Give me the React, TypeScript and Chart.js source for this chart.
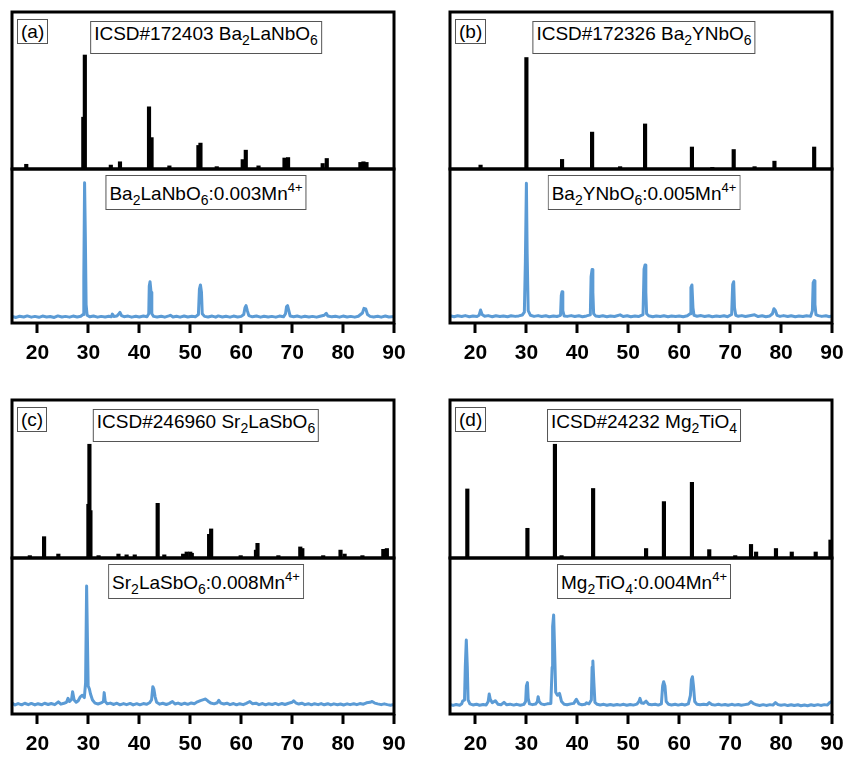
import React, { useEffect, useRef } from 'react';
import { Chart, registerables } from 'chart.js';

Chart.register(...registerables);

// ---------- shared axis ----------
const X_MIN = 15;
const X_MAX = 90;
const xTicks = [20, 30, 40, 50, 60, 70, 80, 90];

// ---------- (a) ICSD#172403 Ba2LaNbO6 reference sticks ----------
const refA_pos = [17.8, 29.0, 29.3, 34.4, 36.2, 41.9, 42.4, 45.9, 51.6, 52.0, 55.2, 60.3, 60.9, 63.4, 68.5, 69.2, 76.0, 76.8, 83.4, 84.0, 84.6];
const refA_int = [3, 33, 72.6, 2.5, 4.6, 39.6, 20, 2, 15, 16.5, 1.5, 6, 12, 2, 7, 7.3, 3.5, 6.7, 4.2, 4.6, 4.2];
// sample Ba2LaNbO6:0.003Mn4+  [2theta, intensity]
const sampleA: [number, number][] = [
  [15, 4.3], [15.8, 3.6], [16.5, 4.4], [17.3, 3.9], [18, 4.6], [18.8, 3.8], [19.5, 4.3], [20.3, 3.7], [21, 4.5],
  [21.8, 3.9], [22.5, 4.2], [23.3, 3.6], [24, 4.6], [24.8, 3.9], [25.5, 4.3], [26.3, 3.8], [27, 4.5], [27.8, 3.9],
  [28.5, 4.4], [28.95, 5.5], [29.1, 30], [29.25, 91], [29.4, 56], [29.55, 12], [29.75, 5], [30.3, 4.0], [31, 4.5],
  [31.8, 3.8], [32.5, 4.3], [33.3, 3.9], [34, 4.4], [34.5, 4.0], [34.7, 5.8], [35, 4.2], [35.6, 4.5], [36, 6],
  [36.2, 6.9], [36.5, 4.8], [37, 4.1], [37.8, 4.5], [38.5, 3.8], [39.3, 4.4], [40, 3.9], [40.8, 4.5], [41.5, 4.1],
  [41.85, 6], [41.95, 24], [42.1, 26.8], [42.3, 20], [42.45, 6], [42.8, 4.3], [43.5, 3.9], [44.3, 4.4], [45, 3.8],
  [45.8, 4.6], [46.1, 5], [46.6, 3.9], [47.3, 4.4], [48, 3.8], [48.8, 4.5], [49.5, 3.9], [50.3, 4.4], [51, 4.0],
  [51.6, 5.5], [51.8, 22], [52.0, 24.7], [52.2, 20], [52.35, 6], [52.8, 4.3], [53.5, 3.9], [54.3, 4.5], [55, 3.8],
  [55.5, 4.6], [56.3, 3.9], [57, 4.4], [57.8, 3.8], [58.5, 4.5], [59.3, 3.9], [60, 4.3], [60.5, 5.5], [60.75, 10],
  [60.95, 11.3], [61.2, 8], [61.5, 4.8], [62.2, 4.0], [63, 4.5], [63.8, 3.8], [64.5, 4.4], [65.3, 3.9], [66, 4.3],
  [66.8, 3.8], [67.5, 4.5], [68.3, 4.0], [68.7, 6], [68.9, 10.5], [69.1, 11.3], [69.35, 8], [69.6, 4.6], [70.3, 4.1],
  [71, 4.5], [71.8, 3.8], [72.5, 4.4], [73.3, 3.9], [74, 4.3], [74.8, 3.8], [75.5, 4.4], [76.3, 5], [76.7, 6.3],
  [77, 4.6], [77.8, 4.0], [78.5, 4.4], [79.3, 3.8], [80, 4.5], [80.8, 3.9], [81.5, 4.3], [82.3, 3.8], [83, 4.4],
  [83.8, 6.5], [84.1, 9.5], [84.45, 9.2], [84.8, 5.5], [85.3, 4.3], [86, 3.9], [86.8, 4.4], [87.5, 3.8], [88.3, 4.5],
  [89, 3.9], [90, 4.2],
];

// ---------- (b) ICSD#172326 Ba2YNbO6 ----------
const refB_pos = [21.0, 30.0, 37.0, 42.9, 48.4, 53.3, 62.5, 66.5, 70.7, 74.8, 78.7, 86.5];
const refB_int = [2.5, 71, 6.1, 23.5, 1.5, 28.7, 14, 1, 12.4, 1.5, 5, 14];
const sampleB: [number, number][] = [
  [15, 4.8], [15.8, 4.1], [16.5, 4.7], [17.3, 4.2], [18, 4.8], [18.8, 4.1], [19.5, 4.6], [20.3, 4.2], [20.7, 5],
  [21.0, 8.4], [21.3, 5.5], [21.8, 4.4], [22.5, 4.8], [23.3, 4.1], [24, 4.7], [24.8, 4.2], [25.5, 4.6], [26.3, 4.1],
  [27, 4.7], [27.8, 4.3], [28.5, 4.6], [29.2, 5.2], [29.6, 7], [29.8, 40], [30.0, 90.7], [30.15, 45], [30.35, 8],
  [30.8, 5], [31.5, 4.3], [32.3, 4.8], [33, 4.2], [33.8, 4.7], [34.5, 4.1], [35.3, 4.6], [36, 4.2], [36.7, 5],
  [36.85, 18], [37.0, 20.3], [37.15, 8], [37.4, 4.6], [38, 4.3], [38.8, 4.8], [39.5, 4.2], [40.3, 4.7], [41, 4.1],
  [41.8, 4.6], [42.55, 5.3], [42.7, 30], [42.9, 34.8], [43.05, 20], [43.2, 6], [43.6, 4.6], [44.3, 4.2], [45, 4.7],
  [45.8, 4.1], [46.5, 4.6], [47.3, 4.2], [48.4, 5.3], [49, 4.2], [49.8, 4.7], [50.5, 4.1], [51.3, 4.6], [52, 4.2],
  [52.9, 5.5], [53.1, 35], [53.3, 37.7], [53.45, 20], [53.6, 6], [54, 4.7], [54.8, 4.1], [55.5, 4.6], [56.3, 4.2],
  [57, 4.7], [57.8, 4.1], [58.5, 4.6], [59.3, 4.2], [60, 4.6], [60.8, 4.1], [61.6, 4.7], [62.15, 6], [62.3, 23],
  [62.5, 24.7], [62.7, 10], [62.9, 5], [63.5, 4.4], [64.3, 4.8], [65, 4.2], [65.8, 4.7], [66.5, 4.1], [67.3, 4.6],
  [68, 4.2], [68.8, 4.7], [69.5, 4.1], [70.3, 5.5], [70.5, 25], [70.7, 26.8], [70.85, 10], [71.1, 5], [71.6, 4.4],
  [72.3, 4.8], [73, 4.2], [73.8, 4.7], [74.8, 5.3], [75.5, 4.2], [76.3, 4.7], [77, 4.1], [77.8, 4.6], [78.3, 6],
  [78.6, 9.3], [78.9, 8], [79.2, 5], [79.8, 4.3], [80.5, 4.8], [81.3, 4.2], [82, 4.7], [82.8, 4.1], [83.5, 4.6],
  [84.3, 4.2], [85, 4.7], [85.8, 4.3], [86.15, 8], [86.3, 26], [86.5, 27.5], [86.65, 12], [86.85, 5.5], [87.3, 4.8],
  [88, 4.3], [88.8, 4.7], [89.5, 4.1], [90, 4.6],
];

// ---------- (c) ICSD#246960 Sr2LaSbO6 ----------
const refC_pos = [18.5, 21.3, 24.1, 30.0, 30.2, 30.4, 32.0, 35.9, 37.5, 39.1, 43.6, 44.9, 48.6, 49.3, 50.0, 50.3, 53.7, 54.1, 59.9, 62.9, 63.2, 67.3, 71.6, 72.0, 76.1, 79.5, 80.3, 83.8, 87.9, 88.6];
const refC_int = [1.5, 13.5, 2.5, 34, 72, 30, 1.5, 2.5, 2, 2, 34.6, 2, 2.5, 3.8, 3.8, 3, 15, 18.4, 1.5, 5, 9.3, 1.5, 7, 6, 1.5, 5, 2.5, 1.5, 5.5, 6];
const sampleC: [number, number][] = [
  [15, 7], [15.6, 5.8], [16.2, 6.7], [16.9, 5.9], [17.5, 6.9], [18.2, 6.0], [18.8, 6.8], [19.5, 5.8], [20.1, 6.6],
  [20.8, 5.9], [21.4, 6.9], [22.1, 6.1], [22.7, 6.7], [23.4, 6.0], [24.1, 7.8], [24.6, 6.3], [25.2, 6.9], [25.7, 7.5],
  [26.0, 10], [26.3, 8], [26.7, 9.5], [26.9, 14.3], [27.2, 9], [27.6, 7.5], [28.0, 8.5], [28.4, 11], [28.8, 12],
  [29.2, 10.5], [29.45, 20], [29.65, 82], [29.8, 50], [29.95, 18], [30.2, 16], [30.4, 13], [30.8, 9], [31.3, 7],
  [31.9, 6.4], [32.5, 7.1], [32.95, 8], [33.1, 13.7], [33.3, 8], [33.7, 6.5], [34.3, 7.0], [35, 6.1], [35.6, 6.9],
  [36.2, 5.9], [36.9, 6.7], [37.5, 6.0], [38.2, 6.8], [38.8, 5.8], [39.5, 6.6], [40.1, 5.9], [40.8, 6.7], [41.4, 6.2],
  [42, 7.2], [42.4, 9], [42.65, 17.5], [42.85, 16], [43.1, 11], [43.4, 7.5], [44, 6.3], [44.6, 6.9], [45.3, 6.1],
  [45.9, 6.8], [46.5, 8], [47, 6.4], [47.6, 7.0], [48.3, 6.1], [48.9, 6.9], [49.5, 6.2], [50.2, 7.1], [50.8, 6.6],
  [51.4, 7.8], [52, 8.6], [52.6, 9.2], [53.0, 9.6], [53.5, 8.2], [54, 7.0], [54.7, 6.5], [55.3, 7.2], [55.6, 8.8],
  [56, 7.0], [56.6, 6.4], [57.2, 6.9], [57.8, 6.0], [58.5, 6.7], [59.1, 5.9], [59.7, 6.6], [60.4, 6.0], [61, 6.8],
  [61.7, 8], [62.2, 6.6], [62.9, 6.9], [63.5, 6.0], [64.2, 6.7], [64.8, 5.9], [65.4, 6.6], [66.1, 6.1], [66.7, 6.8],
  [67.3, 6.0], [68, 6.7], [68.6, 6.1], [69.3, 6.9], [70, 7.5], [70.3, 8.5], [70.7, 7.2], [71.3, 6.4], [71.9, 6.9],
  [72.5, 6.0], [73.2, 6.6], [73.8, 5.9], [74.4, 6.6], [75.1, 6.0], [75.7, 6.7], [76.3, 5.9], [77, 6.6], [77.6, 5.8],
  [78.2, 6.5], [78.9, 5.9], [79.5, 6.4], [80.1, 5.8], [80.8, 6.5], [81.4, 6.0], [82.1, 6.6], [82.7, 6.0], [83.3, 6.7],
  [84, 6.3], [84.6, 7.2], [85.3, 7.5], [85.7, 8], [86.2, 7.0], [86.8, 6.5], [87.5, 6.0], [88.1, 6.5], [88.7, 6.0],
  [89.3, 5.6], [90, 6.2],
];

// ---------- (d) ICSD#24232 Mg2TiO4 ----------
const refD_pos = [18.4, 30.2, 35.6, 36.9, 43.1, 53.5, 57.0, 62.5, 65.9, 71.0, 74.1, 75.1, 79.0, 82.1, 86.8, 89.7];
const refD_int = [43.7, 18.8, 72, 1.5, 44, 6, 35.7, 47.9, 5.3, 1.5, 8.6, 3.8, 6, 3.8, 3.8, 11.4];
const sampleD: [number, number][] = [
  [15, 6.2], [15.6, 5.5], [16.2, 6.1], [16.9, 5.6], [17.3, 6.5], [17.5, 8.3], [17.85, 9], [18.0, 30], [18.2, 47.4],
  [18.4, 30], [18.55, 9], [18.9, 6.5], [19.5, 5.8], [20.2, 6.3], [20.8, 5.6], [21.5, 6.1], [22.1, 5.8], [22.5, 8],
  [22.7, 12.8], [22.9, 9.5], [23.3, 7.2], [23.9, 8.5], [24.4, 6.3], [25, 5.9], [25.6, 7.5], [26.1, 5.9], [26.8, 6.3],
  [27.5, 5.7], [28.1, 6.2], [28.8, 5.6], [29.5, 6.2], [29.85, 8], [30.0, 18], [30.2, 20.1], [30.35, 10], [30.6, 6.5],
  [31.2, 6.0], [31.8, 6.4], [32.15, 8], [32.3, 11.1], [32.5, 8], [32.9, 6.5], [33.5, 6.0], [34.1, 6.5], [34.8, 6.8],
  [35.05, 30], [35.15, 56], [35.35, 63.5], [35.55, 40], [35.75, 14], [36.1, 12], [36.5, 13.2], [36.9, 8], [37.4, 6.3],
  [38, 5.9], [38.7, 6.5], [39.3, 6.8], [39.8, 9.4], [40.3, 6.5], [40.9, 5.9], [41.5, 6.2], [41.8, 7.2], [42.3, 6.5],
  [42.75, 9], [42.9, 30], [43.05, 34], [43.25, 20], [43.45, 7.5], [43.9, 6.2], [44.5, 5.8], [45.2, 6.2], [45.8, 5.6],
  [46.5, 6.1], [47.1, 5.6], [47.8, 6.1], [48.4, 5.7], [49.1, 6.2], [49.7, 5.6], [50.4, 6.1], [51, 5.7], [51.7, 6.3],
  [52.1, 8], [52.3, 10], [52.6, 7], [53, 6.8], [53.5, 8.2], [54, 6.3], [54.6, 5.9], [55.3, 6.2], [55.9, 5.7],
  [56.5, 6.5], [56.75, 18], [56.95, 20.7], [57.2, 18], [57.45, 8], [57.9, 6.3], [58.5, 5.8], [59.2, 6.2], [59.8, 5.7],
  [60.5, 6.2], [61.1, 5.8], [61.8, 6.5], [62.2, 12], [62.4, 22], [62.6, 23.9], [62.8, 18], [63.05, 8], [63.5, 6.2],
  [64.1, 5.9], [64.8, 6.3], [65.5, 6.0], [65.9, 7.3], [66.4, 6.1], [67, 5.7], [67.7, 6.2], [68.3, 5.7], [69, 6.1],
  [69.6, 5.6], [70.3, 6.2], [70.9, 5.7], [71.6, 6.1], [72.2, 5.6], [72.9, 6.0], [73.6, 6.4], [74.1, 8], [74.6, 6.6],
  [75.2, 5.9], [75.8, 5.5], [76.5, 6.0], [77.1, 5.5], [77.8, 6.0], [78.4, 5.7], [78.9, 7.3], [79.4, 6.0], [80, 5.6],
  [80.7, 6.0], [81.3, 5.4], [82, 5.9], [82.6, 5.4], [83.3, 5.9], [83.9, 5.3], [84.6, 5.8], [85.2, 5.3], [85.9, 5.9],
  [86.5, 5.5], [87.2, 6.0], [87.8, 5.5], [88.5, 6.0], [89.1, 5.7], [89.6, 7.5], [90, 8],
];

const BLUE = '#5b9bd5';
const FONT = '"Liberation Sans", Arial, sans-serif';

const framePlugin = {
  id: 'frame',
  afterDatasetsDraw(chart: any) {
    const { ctx, chartArea } = chart;
    const { left, top, right, bottom } = chartArea;
    ctx.save();
    ctx.strokeStyle = '#000';
    ctx.lineWidth = 3;
    ctx.lineJoin = 'miter';
    ctx.strokeRect(left, top, right - left, bottom - top);
    ctx.restore();
  },
};

const PAD_L = 12;
const PAD_R = 31;
const AXIS_H = 44;

function RefChart(props: { pos: number[]; ints: number[]; left: number; top: number; bottom: number }) {
  const ref = useRef<HTMLCanvasElement>(null);
  const width = 382 + PAD_L + PAD_R;
  const height = props.bottom - props.top + 12 + 2;
  useEffect(() => {
    const chart = new Chart(ref.current as HTMLCanvasElement, {
      type: 'bar',
      data: {
        datasets: [
          {
            data: props.pos.map((p, i) => ({ x: p, y: props.ints[i] })),
            backgroundColor: '#000',
            borderWidth: 0,
            barThickness: 3.5,
          } as any,
        ],
      },
      options: {
        responsive: false,
        maintainAspectRatio: false,
        animation: false,
        events: [],
        layout: { padding: { left: PAD_L, right: PAD_R, top: 12, bottom: 2 } },
        plugins: { legend: { display: false }, tooltip: { enabled: false }, title: { display: false } },
        scales: {
          x: { type: 'linear', min: X_MIN, max: X_MAX, offset: false, display: false },
          y: { type: 'linear', min: 0, max: 100, display: false },
        },
      } as any,
      plugins: [framePlugin],
    });
    return () => chart.destroy();
  }, []);
  return (
    <canvas
      ref={ref}
      width={width}
      height={height}
      style={{ position: 'absolute', left: props.left - PAD_L, top: props.top - 12, width, height }}
    />
  );
}

function SampleChart(props: { data: [number, number][]; left: number; top: number; bottom: number }) {
  const ref = useRef<HTMLCanvasElement>(null);
  const width = 382 + PAD_L + PAD_R;
  const height = props.bottom - props.top + 2 + AXIS_H;
  useEffect(() => {
    const chart = new Chart(ref.current as HTMLCanvasElement, {
      type: 'line',
      data: {
        datasets: [
          {
            data: props.data.map(([x, y]) => ({ x, y })),
            borderColor: BLUE,
            borderWidth: 3,
            borderJoinStyle: 'round',
            borderCapStyle: 'round',
            pointRadius: 0,
            tension: 0,
            fill: false,
          },
        ],
      },
      options: {
        responsive: false,
        maintainAspectRatio: false,
        animation: false,
        events: [],
        layout: { padding: { left: PAD_L, right: PAD_R, top: 2, bottom: 0 } },
        plugins: { legend: { display: false }, tooltip: { enabled: false }, title: { display: false } },
        scales: {
          x: {
            type: 'linear',
            min: X_MIN,
            max: X_MAX,
            offset: false,
            afterBuildTicks: (s: any) => {
              s.ticks = xTicks.map((v) => ({ value: v }));
            },
            afterFit: (s: any) => {
              s.height = AXIS_H;
            },
            grid: {
              display: true,
              drawOnChartArea: false,
              drawTicks: true,
              tickLength: 10,
              tickWidth: 3,
              tickColor: '#000',
              lineWidth: 0,
            },
            border: { display: false },
            ticks: {
              color: '#000',
              autoSkip: false,
              maxRotation: 0,
              padding: 8,
              font: { family: FONT, size: 21, weight: 'bold' },
            },
          },
          y: { type: 'linear', min: 0, max: 100, display: false },
        },
      } as any,
      plugins: [framePlugin],
    });
    return () => chart.destroy();
  }, []);
  return (
    <canvas
      ref={ref}
      width={width}
      height={height}
      style={{ position: 'absolute', left: props.left - PAD_L, top: props.top - 2, width, height }}
    />
  );
}

const sub = (t: string) => (
  <span style={{ fontSize: '14px', position: 'relative', top: '5px' }}>{t}</span>
);
const sup = (t: string) => (
  <span style={{ fontSize: '13px', position: 'relative', top: '-8px' }}>{t}</span>
);

function Box(props: { left: number; top: number; centered?: boolean; padTop?: number; padBottom?: number; children: any }) {
  return (
    <div
      style={{
        position: 'absolute',
        left: props.left,
        top: props.top,
        transform: props.centered ? 'translateX(-50%)' : undefined,
        border: '1px solid #555',
        background: '#fff',
        fontFamily: FONT,
        fontSize: '19px',
        lineHeight: '23px',
        paddingLeft: '3px',
        paddingRight: '3px',
        paddingTop: (props.padTop ?? 0) + 'px',
        paddingBottom: (props.padBottom ?? 0) + 'px',
        whiteSpace: 'nowrap',
        color: '#000',
      }}
    >
      {props.children}
    </div>
  );
}

type PanelLayout = { left: number; top: number; divider: number; bottom: number };

function Panel(props: {
  layout: PanelLayout;
  tag: string;
  refTitle: any;
  sampleTitle: any;
  pos: number[];
  ints: number[];
  sample: [number, number][];
}) {
  const { left, top, divider, bottom } = props.layout;
  const cx = left + 191 + 3;
  return (
    <>
      <RefChart pos={props.pos} ints={props.ints} left={left} top={top} bottom={divider} />
      <SampleChart data={props.sample} left={left} top={divider} bottom={bottom} />
      <Box left={left + 5} top={top + 7}>{props.tag}</Box>
      <Box left={cx} top={top + 9} centered padBottom={6}>{props.refTitle}</Box>
      <Box left={cx} top={divider + 6} centered padTop={6} padBottom={2}>{props.sampleTitle}</Box>
    </>
  );
}

export default function App() {
  return (
    <div style={{ position: 'absolute', left: 0, top: 0, width: 850, height: 762, background: '#fff', overflow: 'hidden' }}>
      <Panel
        layout={{ left: 12, top: 12, divider: 169, bottom: 323 }}
        tag="(a)"
        refTitle={<>ICSD#172403 Ba{sub('2')}LaNbO{sub('6')}</>}
        sampleTitle={<>Ba{sub('2')}LaNbO{sub('6')}:0.003Mn{sup('4+')}</>}
        pos={refA_pos}
        ints={refA_int}
        sample={sampleA}
      />
      <Panel
        layout={{ left: 450, top: 12, divider: 169, bottom: 323 }}
        tag="(b)"
        refTitle={<>ICSD#172326 Ba{sub('2')}YNbO{sub('6')}</>}
        sampleTitle={<>Ba{sub('2')}YNbO{sub('6')}:0.005Mn{sup('4+')}</>}
        pos={refB_pos}
        ints={refB_int}
        sample={sampleB}
      />
      <Panel
        layout={{ left: 12, top: 400, divider: 558, bottom: 714 }}
        tag="(c)"
        refTitle={<>ICSD#246960 Sr{sub('2')}LaSbO{sub('6')}</>}
        sampleTitle={<>Sr{sub('2')}LaSbO{sub('6')}:0.008Mn{sup('4+')}</>}
        pos={refC_pos}
        ints={refC_int}
        sample={sampleC}
      />
      <Panel
        layout={{ left: 450, top: 400, divider: 558, bottom: 714 }}
        tag="(d)"
        refTitle={<>ICSD#24232 Mg{sub('2')}TiO{sub('4')}</>}
        sampleTitle={<>Mg{sub('2')}TiO{sub('4')}:0.004Mn{sup('4+')}</>}
        pos={refD_pos}
        ints={refD_int}
        sample={sampleD}
      />
    </div>
  );
}
